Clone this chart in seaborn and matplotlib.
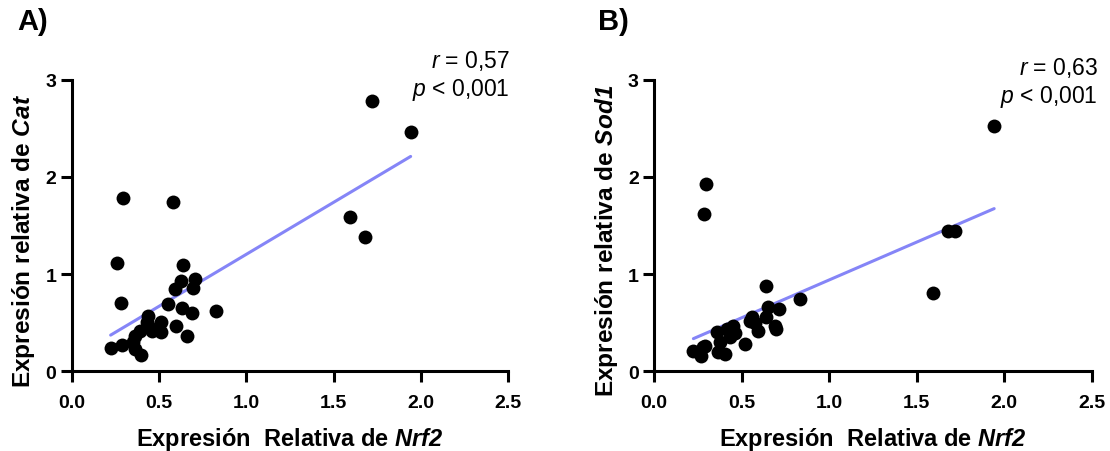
import matplotlib
matplotlib.use("Agg")
import matplotlib.pyplot as plt
import seaborn as sns
import pandas as pd

# Relative expression data (Cat vs Nrf2)
nrf2_cat = [1.718, 1.941, 0.296, 0.582, 1.592, 1.681, 0.261, 0.638, 0.705, 0.628,
            0.590, 0.695, 0.280, 0.554, 0.634, 0.689, 0.829, 0.438, 0.514, 0.600,
            0.429, 0.440, 0.390, 0.457, 0.510, 0.663, 0.362, 0.352, 0.223, 0.286,
            0.362, 0.394]
cat = [2.78, 2.46, 1.78, 1.74, 1.584, 1.385, 1.114, 1.097, 0.95, 0.932,
       0.847, 0.857, 0.70, 0.692, 0.648, 0.597, 0.624, 0.572, 0.51, 0.463,
       0.51, 0.46, 0.418, 0.418, 0.40, 0.36, 0.36, 0.298, 0.24, 0.27,
       0.23, 0.171]

# Relative expression data (Sod1 vs Nrf2)
nrf2_sod1 = [1.943, 0.297, 0.288, 1.682, 1.720, 1.592, 0.640, 0.834, 0.653, 0.714,
             0.640, 0.558, 0.549, 0.691, 0.697, 0.596, 0.577, 0.450, 0.415, 0.463,
             0.358, 0.434, 0.377, 0.520, 0.291, 0.225, 0.267, 0.368, 0.406, 0.282]
sod1 = [2.527, 1.927, 1.618, 1.447, 1.447, 0.806, 0.874, 0.744, 0.658, 0.64,
        0.556, 0.562, 0.52, 0.47, 0.435, 0.418, 0.50, 0.47, 0.435, 0.394,
        0.40, 0.35, 0.298, 0.28, 0.264, 0.206, 0.16, 0.195, 0.178, 0.253]

x_ticks = [0.0, 0.5, 1.0, 1.5, 2.0, 2.5]
x_tick_labels = ["0.0", "0.5", "1.0", "1.5", "2.0", "2.5"]
y_ticks = [0, 1, 2, 3]

# tag, x values, y values, gene name, Pearson r
panels = [
    ("A)", nrf2_cat, cat, "Cat", "0,57"),
    ("B)", nrf2_sod1, sod1, "Sod1", "0,63"),
]

sns.set_theme(style="ticks")
plt.rcParams["font.family"] = ["Liberation Sans", "DejaVu Sans"]
plt.rcParams["mathtext.fontset"] = "custom"
plt.rcParams["mathtext.rm"] = "Liberation Sans"
plt.rcParams["mathtext.it"] = "Liberation Sans:italic"
plt.rcParams["mathtext.bf"] = "Liberation Sans:bold"
plt.rcParams["mathtext.bfit"] = "Liberation Sans:bold:italic"

fig = plt.figure(figsize=(11.10, 4.52), dpi=100)
axes_rects = [
    [0.0646, 0.1763, 0.3933, 0.6451],
    [0.5892, 0.1763, 0.3943, 0.6451],
]
# per-panel placement of the statistics text (axes coords: right x, r baseline, p baseline)
stat_pos = [(1.004, 1.044, 0.946), (1.014, 1.020, 0.924)]
ylabel_x = [-0.080, -0.077]
tag_x = [-0.125, -0.128]

for i, (rect, (tag, xs, ys, gene, rval)) in enumerate(zip(axes_rects, panels)):
    ax = fig.add_axes(rect)
    df = pd.DataFrame({"nrf2": xs, "gene": ys})
    sns.regplot(data=df, x="nrf2", y="gene", ax=ax, ci=None, scatter=False,
                line_kws=dict(color="#8585f7", lw=2.2, zorder=1))
    sns.scatterplot(data=df, x="nrf2", y="gene", ax=ax, color="black",
                    s=100, edgecolor="black", linewidth=0, zorder=3, legend=False)
    ax.set_xlim(0, 2.5)
    ax.set_ylim(0, 3)
    ax.set_xticks(x_ticks)
    ax.set_xticklabels(x_tick_labels)
    ax.set_yticks(y_ticks)
    for s in ("top", "right"):
        ax.spines[s].set_visible(False)
    for s in ("left", "bottom"):
        ax.spines[s].set_linewidth(2.2)
        ax.spines[s].set_color("black")
    ax.tick_params(axis="both", length=8, width=2.2, color="black",
                   labelsize=14)
    ax.tick_params(axis="x", pad=8)
    ax.tick_params(axis="y", pad=3)
    for lab in ax.get_xticklabels() + ax.get_yticklabels():
        lab.set_fontweight("bold")
        lab.set_color("black")
    ax.set_xlabel(r"Expresión  Relativa de $\mathbfit{Nrf2}$",
                  fontsize=17, fontweight="bold", color="black")
    ax.xaxis.set_label_coords(0.5, -0.185)
    ax.set_ylabel(r"Expresión relativa de $\mathbfit{" + gene + "}$",
                  fontsize=17.6, fontweight="bold", color="black")
    ax.yaxis.set_label_coords(ylabel_x[i], 0.452)

    rx, ry, py = stat_pos[i]
    ax.text(rx, ry, r"$\mathit{r}$ = " + rval, transform=ax.transAxes,
            ha="right", va="baseline", fontsize=16.5, color="black")
    ax.text(rx, py, r"$\mathit{p}$ < 0,001", transform=ax.transAxes,
            ha="right", va="baseline", fontsize=16.5, color="black")
    ax.text(tag_x[i], 1.249, tag, transform=ax.transAxes, ha="left", va="top",
            fontsize=21, fontweight="bold", color="black")

fig.savefig("out.png", dpi=100)
